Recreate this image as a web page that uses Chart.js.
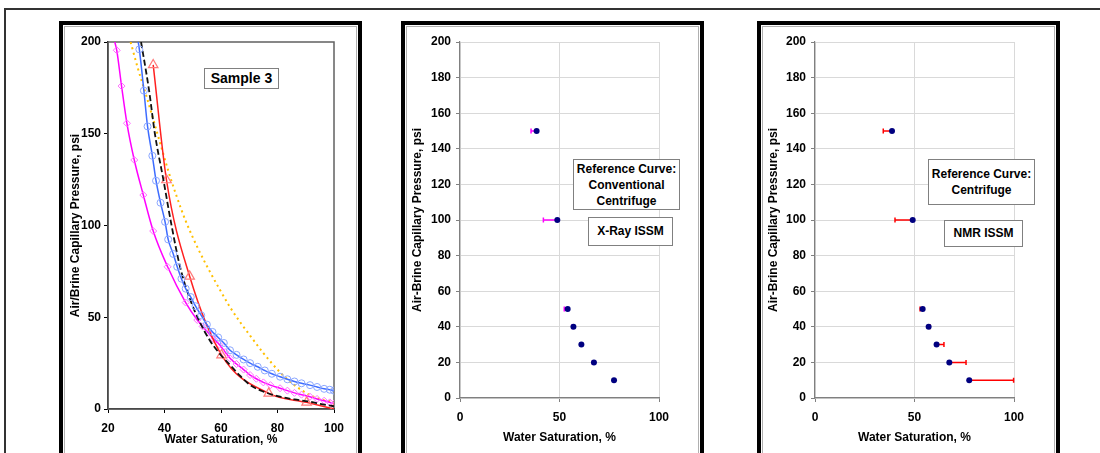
<!DOCTYPE html>
<html>
<head>
<meta charset="utf-8">
<script src="https://cdn.jsdelivr.net/npm/chart.js@4.4.0/dist/chart.umd.min.js"></script>
<style>
  body { margin: 0; background: #fff; width: 1100px; height: 453px; overflow: hidden; position: relative; font-family: "Liberation Sans", Arial, sans-serif; }
  .outer { position: absolute; left: 4px; top: 8px; width: 1110px; height: 470px; border: 2px solid #333; box-sizing: border-box; }
  .frame { position: absolute; top: 21px; width: 303px; height: 470px; border: 4px solid #000; box-sizing: border-box; background: #fff; }
  .frame .inner { position: absolute; left: 1px; top: 1px; right: 1px; bottom: 1px; border: 1.5px solid #b0b0b0; }
  canvas { position: absolute; top: 26px; }
  .box { position: absolute; border: 1.5px solid #808080; background: #fff; box-sizing: border-box; font-weight: bold; font-size: 12px; line-height: 16px; text-align: center; color: #000; }
</style>
</head>
<body>
<div class="outer"></div>
<div class="frame" style="left:59px"><div class="inner"></div></div>
<div class="frame" style="left:401px"><div class="inner"></div></div>
<div class="frame" style="left:757px"><div class="inner"></div></div>

<canvas id="c1" width="294" height="427" style="left:64px"></canvas>
<canvas id="c2" width="292" height="427" style="left:406px"></canvas>
<canvas id="c3" width="292" height="427" style="left:762px"></canvas>

<div class="box" style="left:204px;top:68px;width:75px;height:21px;font-size:14px;line-height:18px">Sample 3</div>
<div class="box" style="left:573px;top:159px;width:107px;height:51px;padding-top:1px">Reference Curve:<br>Conventional<br>Centrifuge</div>
<div class="box" style="left:588px;top:217px;width:85px;height:29px;line-height:26px">X-Ray ISSM</div>
<div class="box" style="left:928px;top:159px;width:107px;height:46px;padding-top:6px">Reference Curve:<br>Centrifuge</div>
<div class="box" style="left:944px;top:220px;width:79px;height:27px;line-height:24px">NMR ISSM</div>

<script>
// Sample 3 curves (water saturation %, capillary pressure psi)
const blueSw = [30.7, 31.1, 32.7, 34.0, 35.7, 37.0, 38.6, 40.2, 41.3, 43.1, 44.5, 46.0, 47.5, 49.3, 51.0, 53.0, 55.0, 57.0, 59.0, 61.0, 63.2, 65.5, 68.0, 70.3, 73.0, 75.5, 78.0, 80.9, 83.5, 86.0, 88.5, 91.5, 94.0, 96.5, 98.5, 100];
const bluePc = [200, 196, 173.5, 154, 138, 124.4, 112.4, 102, 92.4, 84.5, 77.5, 71, 65.6, 61, 56, 51, 46, 42, 39, 36, 32, 29.5, 27, 25, 23, 21, 19.2, 17.6, 16.2, 15, 14, 13, 12, 11, 10.5, 10];

const magSw = [22.4, 23.1, 24.8, 26.7, 29.3, 32.5, 36.0, 41.1, 47.5, 51.6, 53.5, 55.5, 57.5, 59.5, 61.5, 63.2, 65.5, 68.0, 70.3, 72.5, 75.0, 77.5, 80.9, 83.5, 86.0, 88.5, 91.5, 94.0, 96.5, 98.5, 100];
const magPc = [200, 195.5, 176, 155.7, 135.7, 116.6, 97, 77.5, 58, 48.5, 45, 41.5, 38, 35, 31, 27.6, 24.5, 21.5, 18.5, 16.5, 14.5, 13, 11.3, 10, 8.8, 7.8, 6.7, 5.5, 4.5, 3.6, 3];

const redSw = [36.0, 40.7, 48.9, 60.2, 76.9, 90.3, 100];
const redPc = [187.5, 124.8, 72.3, 29.4, 8.5, 3.6, 0];

const blackSw = [31.7, 34.5, 36.6, 39.6, 42.5, 45.5, 49.0, 52.6, 56.0, 59.6, 63.2, 66.5, 70.3, 75.0, 80.9, 86.0, 91.5, 96.0, 100];
const blackPc = [200, 174, 150, 125, 100, 77.5, 60, 47, 37.5, 30, 24, 18.5, 13.1, 9.5, 6.7, 5.2, 4, 2.5, 1.5];

const yellowSw = [28.0, 30.5, 33.7, 37.5, 41.5, 44.5, 47.5, 52.0, 56.0, 59.6, 63.2, 66.7, 70.3, 75.0, 80.9, 86.0, 91.5, 96.0, 100];
const yellowPc = [200, 186, 170, 150, 129, 115, 102.5, 87, 75, 65, 55.5, 47.5, 40, 30.5, 20, 13, 7.6, 5, 3.8];

// ISSM points and reference-curve saturations at the same pressures
const issmPc = [150, 100, 50, 40, 30, 20, 10];
const xraySw = [38.5, 48.9, 54.1, 57.0, 61.0, 67.3, 77.4];
const xrayRefSw = [35.7, 41.9, 52.4, 56.4, 61.0, 66.6, 77.4];
const nmrSw = [38.7, 49.1, 54.1, 57.1, 61.1, 67.5, 77.5];
const nmrRefSw = [34.3, 40.2, 52.8, 57.8, 64.8, 75.9, 99.8];

const xTicks1 = [20, 40, 60, 80, 100];
const yTicks1 = [0, 50, 100, 150, 200];
const xTicks2 = [0, 50, 100];
const yTicks2 = [0, 20, 40, 60, 80, 100, 120, 140, 160, 180, 200];

const font = { family: '"Liberation Sans", Arial, sans-serif', size: 12, weight: 'bold' };
Chart.defaults.color = '#000';
Chart.defaults.font = font;

const pts = (xs, ys) => xs.map((x, i) => ({ x: x, y: ys[i] }));

const plotBorder = {
  id: 'plotBorder',
  beforeDatasetsDraw(chart) {
    const a = chart.chartArea, c = chart.ctx;
    c.save();
    c.strokeStyle = '#606060';
    c.lineWidth = 1.5;
    c.strokeRect(a.left, a.top, a.right - a.left, a.bottom - a.top);
    c.restore();
  }
};

const errorBars = {
  id: 'errorBars',
  beforeDatasetsDraw(chart, args, opts) {
    const c = chart.ctx, xs = chart.scales.x, ys = chart.scales.y;
    c.save();
    c.strokeStyle = opts.color;
    c.lineWidth = 1.5;
    opts.sw.forEach((sw, i) => {
      const ref = opts.ref[i];
      if (Math.abs(ref - sw) < 0.3) return;
      const x0 = xs.getPixelForValue(sw), x1 = xs.getPixelForValue(ref), y = ys.getPixelForValue(opts.pc[i]);
      c.beginPath();
      c.moveTo(x0, y); c.lineTo(x1, y);
      c.moveTo(x1, y - 2.5); c.lineTo(x1, y + 2.5);
      c.stroke();
    });
    c.restore();
  }
};

function fixed(size) {
  return function (scale) {
    if (scale.isHorizontal()) scale.height = size; else scale.width = size;
  };
}

new Chart(document.getElementById('c1'), {
  type: 'line',
  data: {
    datasets: [
      { data: pts(blueSw, bluePc), borderColor: '#3d6cff', borderWidth: 1.5, pointStyle: 'circle',
        pointRadius: ctx => (ctx.raw && ctx.raw.y >= 199 ? 0 : 3.5), pointBorderColor: '#8aa6ff', pointBackgroundColor: 'rgba(0,0,0,0)', pointBorderWidth: 1, order: 1 },
      { data: pts(blackSw, blackPc), borderColor: '#111', borderWidth: 1.8, borderDash: [6, 3], pointRadius: 0, order: 2 },
      { data: pts(redSw, redPc), borderColor: '#ff2020', borderWidth: 1.5, pointStyle: 'triangle', pointRadius: 5.5,
        pointBorderColor: '#ff7a7a', pointBackgroundColor: 'rgba(0,0,0,0)', pointBorderWidth: 1.2, order: 3 },
      { data: pts(magSw, magPc), borderColor: '#ff00ff', borderWidth: 1.5, pointStyle: 'rectRot',
        pointRadius: ctx => (ctx.raw && ctx.raw.y >= 199 ? 0 : 3.5), pointBorderColor: '#ff70ff', pointBackgroundColor: 'rgba(0,0,0,0)', pointBorderWidth: 1, order: 4 },
      { data: pts(yellowSw, yellowPc), borderColor: '#ffc000', borderWidth: 2, borderDash: [2, 3.5], pointRadius: 0, order: 5 }
    ]
  },
  options: {
    responsive: false, animation: false, devicePixelRatio: 1,
    cubicInterpolationMode: 'monotone',
    layout: { padding: { top: 16, right: 24, left: 0, bottom: 0 } },
    plugins: { legend: { display: false }, tooltip: { enabled: false } },
    scales: {
      x: {
        type: 'linear', min: 20, max: 100,
        afterBuildTicks: s => { s.ticks = xTicks1.map(v => ({ value: v })); },
        afterFit: fixed(44),
        grid: { drawOnChartArea: false, tickLength: 4, tickColor: '#000' },
        border: { color: '#000', width: 1.5 },
        ticks: { padding: 8, font: font, maxRotation: 0 },
        title: { display: true, text: 'Water Saturation, %', font: font, padding: { top: 0, bottom: 6 } }
      },
      y: {
        type: 'linear', min: 0, max: 200,
        afterBuildTicks: s => { s.ticks = yTicks1.map(v => ({ value: v })); },
        afterFit: fixed(44),
        grid: { drawOnChartArea: false, tickLength: 4, tickColor: '#000' },
        border: { color: '#000', width: 1.5 },
        ticks: { padding: 3, font: font },
        title: { display: true, text: 'Air/Brine Capillary Pressure, psi', font: font, padding: { top: 4, bottom: 0 } }
      }
    }
  },
  plugins: [plotBorder]
});

function issmChart(id, sw, ref, barColor, yWidth, padRight) {
  return new Chart(document.getElementById(id), {
    type: 'scatter',
    data: {
      datasets: [{ data: pts(sw, issmPc), pointRadius: 3, pointBackgroundColor: '#000080', pointBorderColor: '#000080', pointBorderWidth: 0 }]
    },
    options: {
      responsive: false, animation: false, devicePixelRatio: 1,
      layout: { padding: { top: 16, right: padRight, left: 0, bottom: 0 } },
      plugins: { legend: { display: false }, tooltip: { enabled: false },
        errorBars: { sw: sw, ref: ref, pc: issmPc, color: barColor } },
      scales: {
        x: {
          type: 'linear', min: 0, max: 100,
          afterBuildTicks: s => { s.ticks = xTicks2.map(v => ({ value: v })); },
          afterFit: fixed(55),
          grid: { color: '#d9d9d9', lineWidth: 1, tickLength: 4, tickColor: '#808080' },
          border: { color: '#808080', width: 1.2 },
          ticks: { padding: 8, font: font, maxRotation: 0 },
          title: { display: true, text: 'Water Saturation, %', font: font, padding: { top: 0, bottom: 8 } }
        },
        y: {
          type: 'linear', min: 0, max: 200,
          afterBuildTicks: s => { s.ticks = yTicks2.map(v => ({ value: v })); },
          afterFit: fixed(yWidth),
          grid: { color: '#d9d9d9', lineWidth: 1, tickLength: 4, tickColor: '#808080' },
          border: { color: '#808080', width: 1.2 },
          ticks: { padding: 5, font: font },
          title: { display: true, text: 'Air-Brine Capillary Pressure, psi', font: font, padding: { top: 4, bottom: 0 } }
        }
      }
    },
    plugins: [errorBars]
  });
}

issmChart('c2', xraySw, xrayRefSw, '#ff00ff', 54, 39);
issmChart('c3', nmrSw, nmrRefSw, '#ff0000', 53, 40);
</script>
</body>
</html>
